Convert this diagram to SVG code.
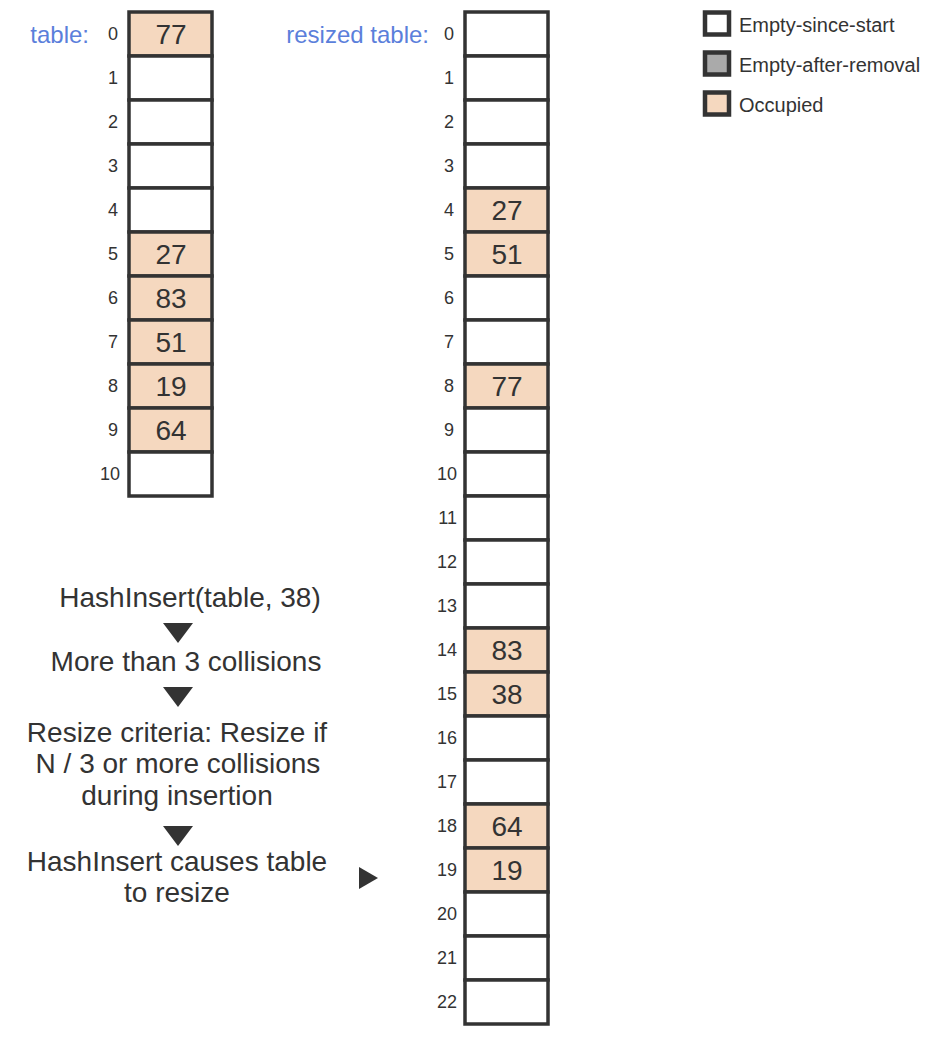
<svg xmlns="http://www.w3.org/2000/svg" width="928" height="1044" viewBox="0 0 928 1044">
<style>
.cell{fill:#fff;stroke:#333;stroke-width:3.5}
.occ{fill:#f5d8bf}
.gray{fill:#aaa}
.idx{font-family:"Liberation Sans",Arial,sans-serif;font-size:18px;fill:#333;text-anchor:end}
.val{font-family:"Liberation Sans",Arial,sans-serif;font-size:28px;fill:#333;text-anchor:middle}
.lbl{font-family:"Liberation Sans",Arial,sans-serif;font-size:24px;fill:#5b7fdb;text-anchor:end}
.leg{font-family:"Liberation Sans",Arial,sans-serif;font-size:20px;fill:#333}
.flow{font-family:"Liberation Sans",Arial,sans-serif;font-size:28px;fill:#333;text-anchor:middle}
.tri{fill:#333}
</style>
<rect width="928" height="1044" fill="#fff"/>
<g id="table">
<text class="lbl" x="89" y="43">table:</text>
<rect class="cell occ" x="129" y="12" width="83" height="44"/><text class="idx" x="118" y="40">0</text><text class="val" x="171" y="44">77</text>
<rect class="cell" x="129" y="56" width="83" height="44"/><text class="idx" x="118" y="84">1</text>
<rect class="cell" x="129" y="100" width="83" height="44"/><text class="idx" x="118" y="128">2</text>
<rect class="cell" x="129" y="144" width="83" height="44"/><text class="idx" x="118" y="172">3</text>
<rect class="cell" x="129" y="188" width="83" height="44"/><text class="idx" x="118" y="216">4</text>
<rect class="cell occ" x="129" y="232" width="83" height="44"/><text class="idx" x="118" y="260">5</text><text class="val" x="171" y="264">27</text>
<rect class="cell occ" x="129" y="276" width="83" height="44"/><text class="idx" x="118" y="304">6</text><text class="val" x="171" y="308">83</text>
<rect class="cell occ" x="129" y="320" width="83" height="44"/><text class="idx" x="118" y="348">7</text><text class="val" x="171" y="352">51</text>
<rect class="cell occ" x="129" y="364" width="83" height="44"/><text class="idx" x="118" y="392">8</text><text class="val" x="171" y="396">19</text>
<rect class="cell occ" x="129" y="408" width="83" height="44"/><text class="idx" x="118" y="436">9</text><text class="val" x="171" y="440">64</text>
<rect class="cell" x="129" y="452" width="83" height="44"/><text class="idx" x="120" y="480">10</text>
</g>
<g id="resized">
<text class="lbl" x="429" y="43">resized table:</text>
<rect class="cell" x="465" y="12" width="83" height="44"/><text class="idx" x="454" y="40">0</text>
<rect class="cell" x="465" y="56" width="83" height="44"/><text class="idx" x="454" y="84">1</text>
<rect class="cell" x="465" y="100" width="83" height="44"/><text class="idx" x="454" y="128">2</text>
<rect class="cell" x="465" y="144" width="83" height="44"/><text class="idx" x="454" y="172">3</text>
<rect class="cell occ" x="465" y="188" width="83" height="44"/><text class="idx" x="454" y="216">4</text><text class="val" x="507" y="220">27</text>
<rect class="cell occ" x="465" y="232" width="83" height="44"/><text class="idx" x="454" y="260">5</text><text class="val" x="507" y="264">51</text>
<rect class="cell" x="465" y="276" width="83" height="44"/><text class="idx" x="454" y="304">6</text>
<rect class="cell" x="465" y="320" width="83" height="44"/><text class="idx" x="454" y="348">7</text>
<rect class="cell occ" x="465" y="364" width="83" height="44"/><text class="idx" x="454" y="392">8</text><text class="val" x="507" y="396">77</text>
<rect class="cell" x="465" y="408" width="83" height="44"/><text class="idx" x="454" y="436">9</text>
<rect class="cell" x="465" y="452" width="83" height="44"/><text class="idx" x="457" y="480">10</text>
<rect class="cell" x="465" y="496" width="83" height="44"/><text class="idx" x="457" y="524">11</text>
<rect class="cell" x="465" y="540" width="83" height="44"/><text class="idx" x="457" y="568">12</text>
<rect class="cell" x="465" y="584" width="83" height="44"/><text class="idx" x="457" y="612">13</text>
<rect class="cell occ" x="465" y="628" width="83" height="44"/><text class="idx" x="457" y="656">14</text><text class="val" x="507" y="660">83</text>
<rect class="cell occ" x="465" y="672" width="83" height="44"/><text class="idx" x="457" y="700">15</text><text class="val" x="507" y="704">38</text>
<rect class="cell" x="465" y="716" width="83" height="44"/><text class="idx" x="457" y="744">16</text>
<rect class="cell" x="465" y="760" width="83" height="44"/><text class="idx" x="457" y="788">17</text>
<rect class="cell occ" x="465" y="804" width="83" height="44"/><text class="idx" x="457" y="832">18</text><text class="val" x="507" y="836">64</text>
<rect class="cell occ" x="465" y="848" width="83" height="44"/><text class="idx" x="457" y="876">19</text><text class="val" x="507" y="880">19</text>
<rect class="cell" x="465" y="892" width="83" height="44"/><text class="idx" x="457" y="920">20</text>
<rect class="cell" x="465" y="936" width="83" height="44"/><text class="idx" x="457" y="964">21</text>
<rect class="cell" x="465" y="980" width="83" height="44"/><text class="idx" x="457" y="1008">22</text>
</g>
<g id="legend">
<rect class="cell" x="705" y="12.5" width="24" height="22" style="stroke-width:4.5"/><text class="leg" x="739" y="32">Empty-since-start</text>
<rect class="cell gray" x="705" y="52.5" width="24" height="22" style="stroke-width:4.5"/><text class="leg" x="739" y="72">Empty-after-removal</text>
<rect class="cell occ" x="705" y="92.5" width="24" height="22" style="stroke-width:4.5"/><text class="leg" x="739" y="112">Occupied</text>
</g>
<g id="flow">
<text class="flow" x="190" y="607">HashInsert(table, 38)</text>
<text class="flow" x="186" y="671">More than 3 collisions</text>
<text class="flow" x="177" y="742">Resize criteria: Resize if</text>
<text class="flow" x="178" y="773">N / 3 or more collisions</text>
<text class="flow" x="177" y="805">during insertion</text>
<text class="flow" x="177" y="871">HashInsert causes table</text>
<text class="flow" x="177" y="902">to resize</text>
</g>
<g id="connectors">
<polygon class="tri" points="163,623 193,623 178,643"/>
<polygon class="tri" points="163,687 193,687 178,707"/>
<polygon class="tri" points="163,826 193,826 178,846"/>
<polygon class="tri" points="359,867 378,878 359,889"/>
</g>
</svg>
